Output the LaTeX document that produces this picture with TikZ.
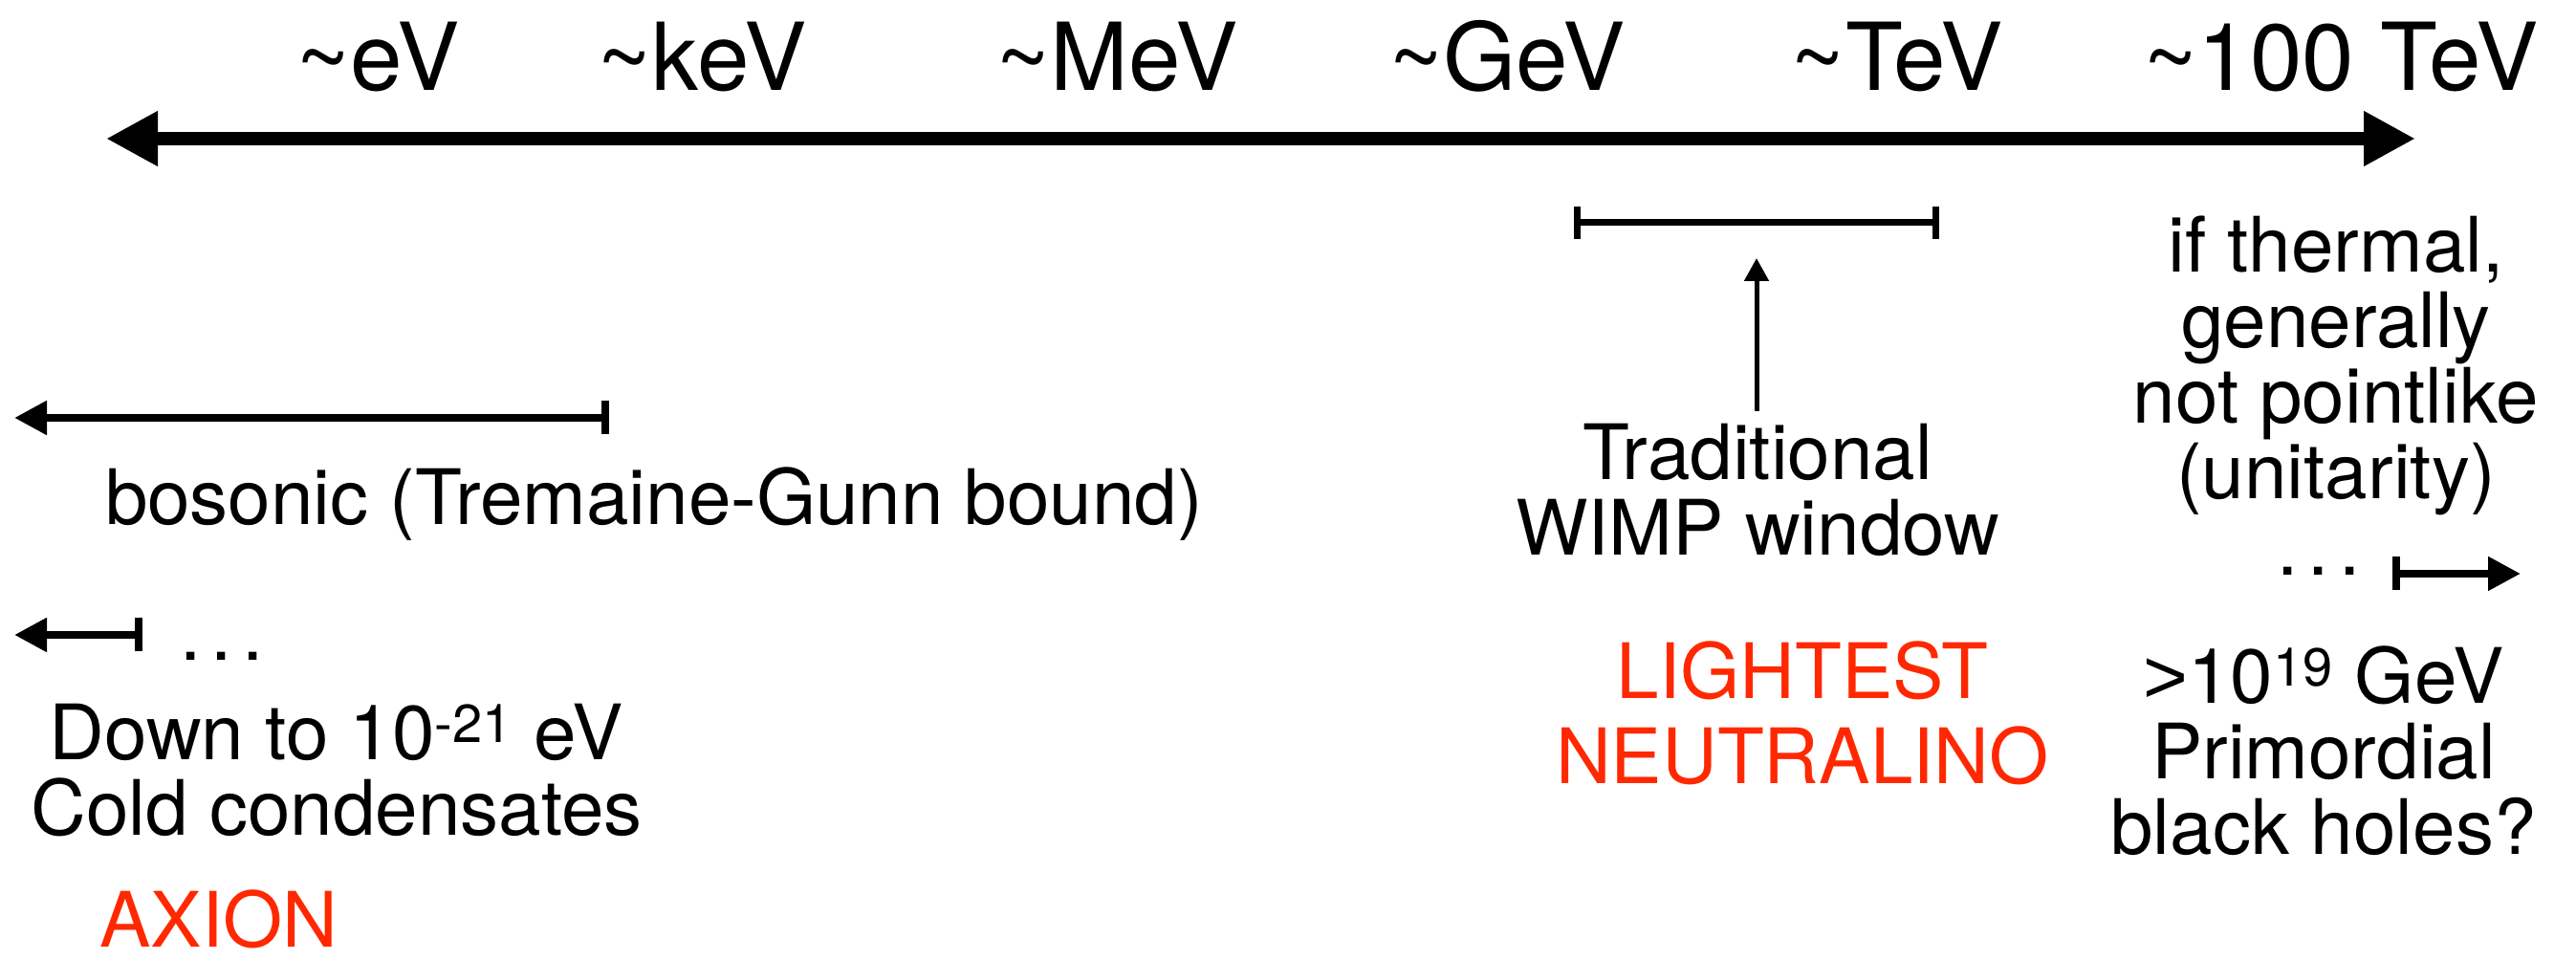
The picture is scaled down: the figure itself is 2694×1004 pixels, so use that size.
\documentclass[tikz,border=0pt]{standalone}
\usepackage{fontspec}
\setmainfont{TeX Gyre Heros}
\newfontfamily\arialfam{Liberation Sans}
\usetikzlibrary{arrows.meta}
\definecolor{accentred}{RGB}{255,40,0}
\begin{document}
\begin{tikzpicture}[x=0.5pt,y=-0.5pt,
  lbl/.style={inner sep=0pt, font=\fontsize{40}{39.5}\selectfont, align=center},
  toplbl/.style={lbl, font=\fontsize{49}{49}\selectfont, anchor=base},
  redlbl/.style={lbl, text=accentred, font=\fontsize{40}{44.5}\selectfont},
  axisarrow/.style={line width=7pt, {Triangle[length=27pt,width=27pt]}-{Triangle[length=27pt,width=27pt]}},
  rangearrow/.style={line width=4pt},
  rangebar/.style={line width=3.5pt, {Bar[width=17pt]}-{Bar[width=17pt]}},
  pointarrow/.style={line width=2.5pt, -{Triangle[length=12pt,width=12.5pt]}}]
\useasboundingbox (0,0) rectangle (2694,1004);
% energy labels
\node[toplbl] (eV)   at (395,95)  {\textasciitilde eV};
\node[toplbl] (keV)  at (734,95)  {\textasciitilde keV};
\node[toplbl] (MeV)  at (1168,95) {\textasciitilde MeV};
\node[toplbl] (GeV)  at (1576,95) {\textasciitilde GeV};
\node[toplbl] (TeV)  at (1984,95) {\textasciitilde TeV};
\node[toplbl] (hTeV) at (2448,95) {\textasciitilde 100 TeV};
% main axis
\coordinate (axL) at (111,145);
\coordinate (axR) at (2526,145);
\draw[axisarrow] (axL) -- (axR);
% WIMP window
\coordinate (wL) at (1646,233);
\coordinate (wR) at (2028,233);
\draw[rangebar] (wL) -- (wR);
\node[lbl] (wimp) at (1838,512) {Traditional\\WIMP window};
\coordinate (wTip) at (1837,270);
\coordinate (wBase) at (1837,430);
\draw[pointarrow] (wBase) -- (wTip);
\node[redlbl] (neut) at (1885,746) {LIGHTEST\\NEUTRALINO};
% thermal note
\node[lbl] (thermal) at (2443,382) {if thermal,\\generally\\not pointlike\\(unitarity)};
% bosonic
\coordinate (bL) at (15,437);
\coordinate (bR) at (637,437);
\draw[rangearrow, {Triangle[length=17pt,width=17pt]}-{Bar[width=17.5pt]}] (bL) -- (bR);
\node[lbl] (boson) at (684,527) {bosonic (Tremaine-Gunn bound)};
% axion
\coordinate (aL) at (15,664);
\coordinate (aR) at (149,664);
\draw[rangearrow, {Triangle[length=17pt,width=17pt]}-{Bar[width=17.5pt]}] (aL) -- (aR);
\node[lbl, anchor=base] (adots) at (232,691) {.\kern5pt.\kern5pt.};
\node[lbl] (down) at (352,806) {Down to 10\textsuperscript{-21} eV\\Cold condensates};
\node[redlbl, anchor=base] (axion) at (229,990) {AXION};
% primordial black holes
\coordinate (pL) at (2502,600);
\coordinate (pR) at (2636,600);
\draw[rangearrow, {Bar[width=17.5pt]}-{Triangle[length=17pt,width=17pt]}] (pL) -- (pR);
\node[lbl, anchor=base] (pdots) at (2425,602) {.\kern5pt.\kern5pt.};
\node[lbl] (pbh) at (2430,785) {{\arialfam >}10\textsuperscript{19} GeV\\Primordial\\black holes?};
\end{tikzpicture}
\end{document}
